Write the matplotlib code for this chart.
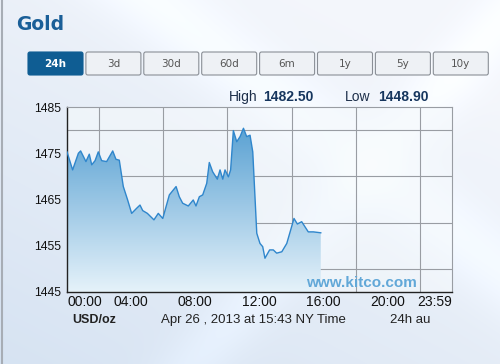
import numpy as np
import matplotlib.pyplot as plt
from matplotlib.patches import FancyBboxPatch, Polygon

# gold price, 24h chart (hours since 00:00 NY time)
hours = [0.0, 0.35, 0.71, 0.85, 1.18, 1.39, 1.54, 1.75, 1.95, 2.16, 2.47, 2.85,
         3.05, 3.26, 3.51, 3.78, 4.03, 4.34, 4.55, 4.72, 5.01, 5.42, 5.69, 5.97,
         6.38, 6.80, 7.00, 7.21, 7.56, 7.87, 8.04, 8.25, 8.46, 8.71, 8.87, 9.08,
         9.37, 9.54, 9.71, 9.85, 10.06, 10.20, 10.37, 10.58, 10.79, 11.00, 11.20,
         11.41, 11.58, 11.83, 12.03, 12.20, 12.34, 12.63, 12.86, 13.07, 13.39,
         13.70, 14.15, 14.36, 14.63, 15.04, 15.36, 15.82]
prices = [1475.3, 1471.4, 1475.0, 1475.5, 1473.2, 1474.8, 1472.5, 1473.4, 1475.3,
          1473.4, 1473.2, 1475.5, 1473.7, 1473.5, 1467.8, 1464.9, 1462.0, 1463.1,
          1463.8, 1462.6, 1462.0, 1460.6, 1462.0, 1460.9, 1466.0, 1467.8, 1465.6,
          1464.2, 1463.6, 1464.9, 1463.6, 1465.6, 1466.0, 1468.5, 1473.0, 1471.0,
          1469.4, 1471.4, 1469.4, 1471.4, 1469.9, 1471.4, 1479.9, 1477.5, 1478.6,
          1480.4, 1478.6, 1478.9, 1475.3, 1457.7, 1455.5, 1454.8, 1452.3, 1454.1,
          1454.1, 1453.4, 1453.7, 1455.5, 1460.9, 1459.7, 1460.2, 1458.0, 1458.0,
          1457.8]

ytick_vals = [1445, 1455, 1465, 1475, 1485]
xtick_vals = [0, 4, 8, 12, 16, 20, 24]
xtick_labels = ["00:00", "04:00", "08:00", "12:00", "16:00", "20:00", "23:59"]
buttons = ["24h", "3d", "30d", "60d", "6m", "1y", "5y", "10y"]
high_val = "1482.50"
low_val = "1448.90"

W, H = 500, 364
fig = plt.figure(figsize=(W / 100, H / 100), dpi=100)
plt.rcParams['font.family'] = ['Liberation Sans', 'DejaVu Sans']

# background: light blue-grey, bluer to the lower left, with soft streaks
bg = fig.add_axes([0, 0, 1, 1])
yy, xx = np.mgrid[0:H, 0:W]
t = np.clip((yy / H) * 0.7 + (1 - xx / W) * 0.5 - 0.2, 0, 1)
light = np.array([0.955, 0.965, 0.985])
blue = np.array([0.84, 0.89, 0.95])
img = light * (1 - t[..., None]) + blue * t[..., None]
streak = 0.04 * np.exp(-((xx - 1.3 * yy - 150) / 60.0) ** 2)
streak += 0.035 * np.exp(-((xx + 0.9 * yy - 520) / 40.0) ** 2)
img = np.clip(img + streak[..., None], 0, 1)
bg.imshow(img, extent=[0, W, H, 0], aspect='auto')
bg.set_xlim(0, W)
bg.set_ylim(H, 0)
bg.axis('off')
bg.plot([2, 2], [0, H], color='#a7adb5', lw=1.5)

# title and buttons
bg.text(16, 25, "Gold", color='#1a5f98', fontsize=13.5, fontweight='bold',
        family='DejaVu Sans', va='center', ha='left')
bx0, bw, gap = 28, 55, 2.9
for i, b in enumerate(buttons):
    x = bx0 + i * (bw + gap)
    active = i == 0
    box = FancyBboxPatch((x, 52), bw, 23, boxstyle="round,pad=0,rounding_size=2",
                         fc='#0f5d93' if active else '#eef1f5',
                         ec='#0f5d93' if active else '#8a8f96', lw=0.8)
    bg.add_patch(box)
    bg.text(x + bw / 2, 64, b, ha='center', va='center', fontsize=7.5,
            family='DejaVu Sans', fontweight='bold' if active else 'normal',
            color='white' if active else '#555555')

# high / low
bg.text(229, 97, "High", fontsize=10, color='#1d2f4a', va='center')
bg.text(263, 97, high_val, fontsize=10, color='#16365e', fontweight='bold', va='center')
bg.text(345, 97, "Low", fontsize=10, color='#1d2f4a', va='center')
bg.text(378, 97, low_val, fontsize=10, color='#16365e', fontweight='bold', va='center')

# bottom captions
bg.text(72, 320, "USD/oz", fontsize=9, fontweight='bold', color='#222222', va='center')
bg.text(253, 320, "Apr 26 , 2013 at 15:43 NY Time", fontsize=9.5, color='#222222',
        va='center', ha='center')
bg.text(410, 320, "24h au", fontsize=9.5, color='#222222', va='center', ha='center')

# price chart
ax = fig.add_axes([67 / W, (H - 292) / H, 385 / W, 185 / H])
ax.set_facecolor((0.96, 0.975, 0.99, 0.6))
ax.set_xlim(0, 24)
ax.set_ylim(1445, 1485)

grad = np.linspace(0, 1, 256).reshape(-1, 1)
top_c = np.array([0.33, 0.62, 0.82])
bot_c = np.array([0.90, 0.95, 0.98])
gimg = top_c * (1 - grad[..., None]) + bot_c * grad[..., None]
gimg = np.repeat(gimg, 2, axis=1)
im = ax.imshow(gimg, extent=[0, 24, 1445, 1482], aspect='auto', origin='upper', zorder=1)
poly = Polygon(list(zip([hours[0]] + hours + [hours[-1]],
                        [1445] + prices + [1445])), closed=True, fc='none', ec='none')
ax.add_patch(poly)
im.set_clip_path(poly)
ax.plot(hours, prices, color='#2f86cc', lw=1.0, zorder=3)

ax.set_xticks(np.arange(0, 25, 2), minor=True)
ax.set_yticks(np.arange(1445, 1486, 5), minor=True)
ax.grid(which='minor', color='#999da3', lw=0.8, zorder=0)
ax.set_axisbelow(True)
ax.set_xticks(xtick_vals)
ax.set_xticklabels(xtick_labels, fontsize=10, color='#111111')
xl = ax.get_xticklabels()
xl[0].set_ha('left')
xl[-1].set_ha('right')
ax.set_yticks(ytick_vals)
ax.set_yticklabels([str(v) for v in ytick_vals], fontsize=8.8, color='#111111')
ax.tick_params(which='both', length=0, pad=2)
ax.tick_params(axis='y', pad=4)
for s in ['top', 'right']:
    ax.spines[s].set_color('#999da3')
for s in ['left', 'bottom']:
    ax.spines[s].set_color('#222222')
    ax.spines[s].set_linewidth(1.0)

ax.text(18.35, 1446.9, "www.kitco.com", fontsize=11, fontweight='bold',
        color='#62a8d8', ha='center', va='center', zorder=4)

fig.savefig("out.png", dpi=100)
